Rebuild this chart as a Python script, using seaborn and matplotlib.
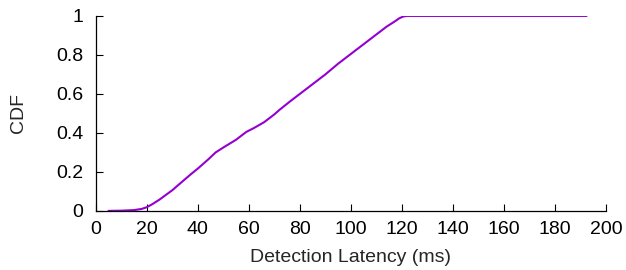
import matplotlib
matplotlib.use("Agg")
import matplotlib.pyplot as plt
import seaborn as sns
import pandas as pd

# CDF of detection latency
latency_ms = [5, 10, 15, 18, 20, 22, 25, 30, 33, 37, 40, 44, 47, 50, 55, 59,
              62, 66, 70, 72, 76, 80, 85, 90, 95, 100, 105, 108, 111, 114,
              117, 119, 120.5, 122, 140, 160, 180, 192.4]
cdf = [0.0, 0.001, 0.004, 0.010, 0.019, 0.033, 0.058, 0.106, 0.140, 0.185,
       0.217, 0.263, 0.300, 0.325, 0.365, 0.405, 0.425, 0.455, 0.495, 0.518,
       0.560, 0.600, 0.650, 0.700, 0.755, 0.805, 0.855, 0.885, 0.915, 0.945,
       0.970, 0.988, 0.997, 1.0, 1.0, 1.0, 1.0, 1.0]
x_ticks = list(range(0, 201, 20))
y_ticks = [0, 0.2, 0.4, 0.6, 0.8, 1]
y_tick_labels = ["0", "0.2", "0.4", "0.6", "0.8", "1"]

df = pd.DataFrame({"latency": latency_ms, "cdf": cdf})

sns.set_style("ticks")
plt.rcParams["font.family"] = ["Liberation Sans", "DejaVu Sans"]
FS = 14

fig = plt.figure(figsize=(6.26, 2.70), dpi=100)
ax = fig.add_axes([0.153, 0.219, 0.815, 0.722])

sns.lineplot(data=df, x="latency", y="cdf", ax=ax, color="#9400d3", lw=1.5)

ax.set_xlim(0, 200)
ax.set_ylim(0, 1)
ax.set_xticks(x_ticks)
ax.set_yticks(y_ticks)
ax.set_yticklabels(y_tick_labels)
ax.tick_params(direction="in", length=5, width=0.8, labelsize=FS, colors="black")
ax.tick_params(axis="x", pad=7)
ax.tick_params(axis="y", pad=9)
ax.set_xlabel("Detection Latency (ms)", fontsize=FS, labelpad=8)
ax.set_ylabel("CDF", fontsize=FS, labelpad=21)
for side in ["top", "right"]:
    ax.spines[side].set_visible(False)
for side in ["left", "bottom"]:
    ax.spines[side].set_linewidth(0.9)
    ax.spines[side].set_color("black")

fig.savefig("out.png", dpi=100)
plt.close(fig)
